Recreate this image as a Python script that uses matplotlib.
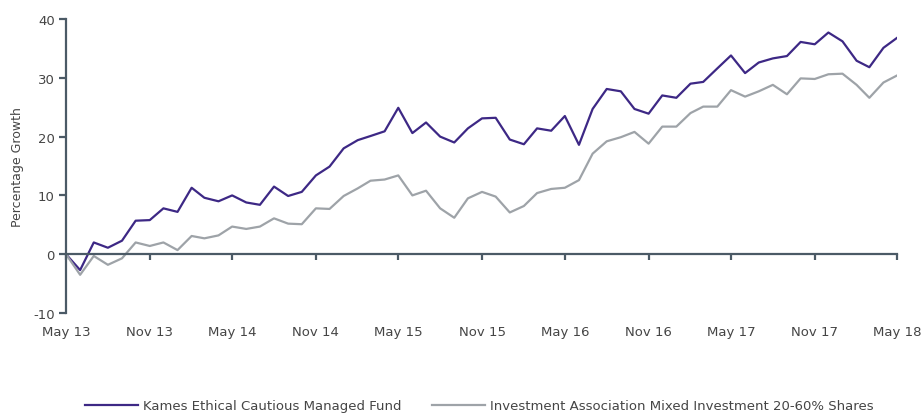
import matplotlib
matplotlib.use('Agg')
import matplotlib.pyplot as plt
import pandas as pd

# monthly cumulative growth (%) May 2013 - May 2018
dates = pd.date_range('2013-05-01', '2018-05-01', freq='MS')

kames = [0, -2.7, 2.0, 1.1, 2.3, 5.7, 5.8, 7.8, 7.2, 11.3,
         9.6, 9.0, 10.0, 8.8, 8.4, 11.5, 9.9, 10.6, 13.4, 14.9,
         18.0, 19.4, 20.1, 20.9, 24.9, 20.6, 22.4, 20.0, 19.0, 21.4,
         23.1, 23.2, 19.5, 18.7, 21.4, 21.0, 23.5, 18.6, 24.7, 28.1,
         27.7, 24.7, 23.9, 27.0, 26.6, 29.0, 29.3, 31.6, 33.8, 30.8,
         32.6, 33.3, 33.7, 36.1, 35.7, 37.7, 36.2, 32.9, 31.8, 35.1,
         36.8]

sector = [0, -3.5, -0.3, -1.8, -0.7, 2.0, 1.4, 2.0, 0.7, 3.1,
          2.7, 3.2, 4.7, 4.3, 4.7, 6.1, 5.2, 5.1, 7.8, 7.7,
          9.9, 11.2, 12.5, 12.7, 13.4, 10.0, 10.8, 7.8, 6.2, 9.5,
          10.6, 9.8, 7.1, 8.2, 10.4, 11.1, 11.3, 12.6, 17.1, 19.2,
          19.9, 20.8, 18.8, 21.7, 21.7, 24.0, 25.1, 25.1, 27.9, 26.8,
          27.7, 28.8, 27.2, 29.9, 29.8, 30.6, 30.7, 28.8, 26.6, 29.2,
          30.4]

labels = ['Kames Ethical Cautious Managed Fund',
          'Investment Association Mixed Investment 20-60% Shares']

purple = '#3d2885'
grey = '#9ea3a8'
axis_col = '#4b5a66'
text_col = '#454545'

plt.rcParams['font.family'] = 'DejaVu Sans'
plt.rcParams['font.size'] = 9.5
plt.rcParams['axes.unicode_minus'] = False

fig = plt.figure(figsize=(9.22, 4.14), dpi=100)
ax = fig.add_axes([0.0716, 0.2415, 0.9014, 0.7102])

ax.plot(dates, kames, color=purple, lw=1.6, label=labels[0])
ax.plot(dates, sector, color=grey, lw=1.6, label=labels[1])

ax.set_xlim(dates[0], dates[-1])
ax.set_ylim(-10, 40)
ax.set_yticks([-10, 0, 10, 20, 30, 40])
ticks = dates[::6]
ax.set_xticks(ticks)
ax.set_xticklabels([d.strftime('%b %y') for d in ticks])

for s in ['top', 'right']:
    ax.spines[s].set_visible(False)
ax.spines['bottom'].set_position(('data', 0))
for s in ['bottom', 'left']:
    ax.spines[s].set_color(axis_col)
    ax.spines[s].set_linewidth(1.6)

ax.tick_params(axis='x', direction='out', length=4, width=1.6, color=axis_col,
               labelcolor=text_col, pad=47)
ax.tick_params(axis='y', direction='out', length=5, width=1.6, color=axis_col,
               labelcolor=text_col, pad=3)

ax.set_ylabel('Percentage Growth', color=text_col, fontsize=9)
ax.yaxis.set_label_coords(-0.05, 0.5)

fig.legend(loc='center left', bbox_to_anchor=(85 / 922, 0.017), ncol=2,
           frameon=False, borderpad=0, borderaxespad=0, handlelength=4.0,
           handletextpad=0.4, columnspacing=2.3, labelcolor=text_col)

fig.savefig('out.png', dpi=100)
